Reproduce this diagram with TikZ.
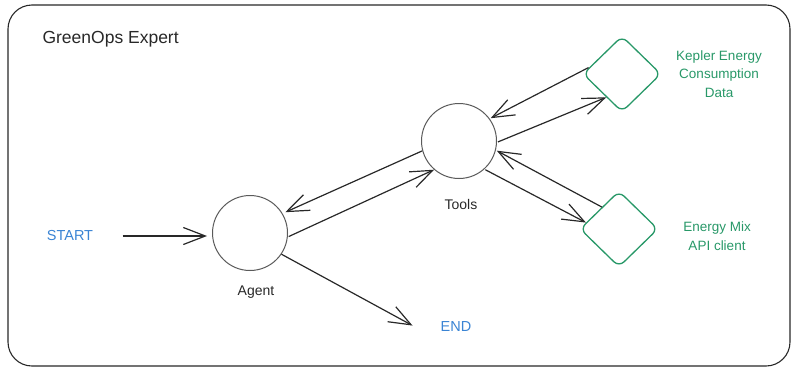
\documentclass[tikz,border=0pt]{standalone}
\usepackage{fontspec}
\setmainfont{Liberation Sans}
\usetikzlibrary{arrows.meta,shapes.geometric}
\definecolor{ink}{RGB}{40,40,40}
\definecolor{ringgray}{RGB}{90,90,90}
\definecolor{toolgreen}{RGB}{40,152,104}
\definecolor{termblue}{RGB}{58,132,212}
\tikzset{
  flow/.style={draw=ink, line width=1.2pt,
    -{Straight Barb[length=22pt,width=17pt,line width=1.2pt]}},
  statenode/.style={circle, draw=ringgray, line width=1pt, minimum size=75pt, inner sep=0pt},
  toolnode/.style={diamond, draw=toolgreen, line width=1.3pt, rounded corners=7pt,
    minimum width=78pt, minimum height=76pt, inner sep=0pt},
  caption/.style={text=ink, font=\fontsize{14}{17}\selectfont},
  toolcaption/.style={text=toolgreen, font=\fontsize{13.5}{18.5}\selectfont, align=center},
  terminal/.style={text=termblue, font=\fontsize{14.5}{17}\selectfont},
}
\begin{document}
\begin{tikzpicture}[x=1pt,y=-1pt]
\useasboundingbox (0,0) rectangle (791,367);
% frame of the graph
\draw[draw=ink, line width=1.1pt, rounded corners=24pt] (8,5) rectangle (790,366);
\node[caption, anchor=base west, font=\fontsize{17.5}{20}\selectfont] (title) at (39,43) {GreenOps Expert};

% states
\node[statenode] (agent) at (250,233) {};
\node[statenode] (tools) at (459,141) {};
\node[caption] (agentlbl) at (256,292) {Agent};
\node[caption] (toolslbl) at (461,204) {Tools};

% tools
\node[toolnode] (kepler) at (622,74) {};
\node[toolnode] (mix) at (619,229) {};
\node[toolcaption] (keplerlbl) at (719,74) {Kepler Energy\\Consumption\\Data};
\node[toolcaption] (mixlbl) at (717,236) {Energy Mix\\API client};

% terminals
\node[terminal] (start) at (70,236) {START};
\node[terminal] (end) at (456,327) {END};

% transitions
\draw[flow, shorten <=26pt, shorten >=5pt] (start.east) -- (start.east -| agent.west);
\draw[flow, shorten >=3pt] (tools.195) -- (agent.31);
\draw[flow, shorten <=1pt] (agent.354) -- (tools.229);
\draw[flow, shorten >=3pt] (agent.326) -- ([xshift=-22pt]end.west);
\draw[flow, shorten <=1pt, shorten >=1pt] (kepler.168) -- (tools.36);
\draw[flow, shorten <=1pt] (tools.358) -- (kepler.236);
\draw[flow, shorten <=1pt] (tools.312) -- (mix.169);
\draw[flow, shorten >=1pt] (mix.128) -- (tools.346);
\end{tikzpicture}
\end{document}
